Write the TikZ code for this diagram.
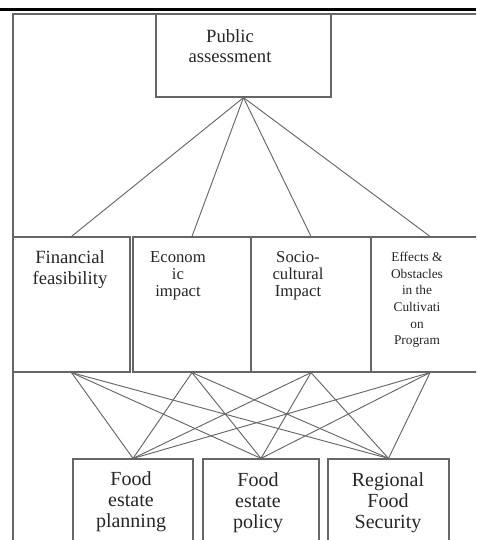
\documentclass[tikz,border=0pt]{standalone}
\usepackage{fontspec}
\setmainfont{Liberation Serif}
\usetikzlibrary{positioning}

\tikzset{
	cell/.style={draw=black!60, line width=0.9pt, rectangle, inner sep=0pt, fill=none},
	link/.style={draw=black!60, line width=0.7pt},
	txt/.style={anchor=north, inner sep=0pt, align=center, text=black!85}
}

\begin{document}
\begin{tikzpicture}[x=0.75pt,y=-0.75pt]
	\useasboundingbox (0,0) rectangle (476,540);
	\clip (0,0) rectangle (476,540);
	
	% frame
	\draw[black, line width=2.25pt] (0,9.5) -- (476,9.5);
	\draw[black!60, line width=0.9pt] (13,560) -- (13,14) -- (500,14);
	
	% top box
	\node[cell, minimum width=131.25pt, minimum height=62.25pt] (pa) at (243.5,55.5) {};
	\node[txt, font=\fontsize{14}{15}\selectfont] (pa-t) at (230,29.5) {Public\\assessment};
	
	% middle row
	\begin{scope}[every node/.append style={minimum height=101.25pt}]
	\node[cell, minimum width=87.75pt] (fin) at (71.5,304.5) {};
	\node[cell, minimum width=88.5pt] (eco) at (192,304.5) {};
	\node[cell, minimum width=90pt] (soc) at (311,304.5) {};
	\node[cell, minimum width=88.5pt] (eff) at (430,304.5) {};
	\end{scope}
	
	\node[txt, font=\fontsize{14}{15.75}\selectfont] (fin-t) at (70,250) {Financial\\feasibility};
	\node[txt, font=\fontsize{12.5}{13}\selectfont] (eco-t) at (178,251) {Econom\\ic\\impact};
	\node[txt, font=\fontsize{12.5}{13}\selectfont] (soc-t) at (298,251) {Socio-\\cultural\\Impact};
	\node[txt, font=\fontsize{10}{12.5}\selectfont] (eff-t) at (417,252) {Effects \&\\Obstacles\\in the\\Cultivati\\on\\Program};
	
	% bottom row
	\begin{scope}[every node/.append style={minimum height=75.75pt}]
	\node[cell, minimum width=90pt] (fep) at (133,509.5) {};
	\node[cell, minimum width=87pt] (fpo) at (261,509.5) {};
	\node[cell, minimum width=90.75pt] (rfs) at (388.5,509.5) {};
	\end{scope}
	
	\node[txt, font=\fontsize{15}{15.75}\selectfont] (fep-t) at (131,471) {Food\\estate\\planning};
	\node[txt, font=\fontsize{15}{15.75}\selectfont] (fpo-t) at (258,472) {Food\\estate\\policy};
	\node[txt, font=\fontsize{15}{15.75}\selectfont] (rfs-t) at (388,472) {Regional\\Food\\Security};
	
	% links
	\path[link] (pa.south) edge (fin.north) edge (eco.north) edge (soc.north) edge (eff.north);
	
	\foreach \a in {fin,eco,soc,eff}
		\foreach \b in {fep,fpo,rfs}
			\draw[link] (\a.south) -- (\b.north);
\end{tikzpicture}
\end{document}
